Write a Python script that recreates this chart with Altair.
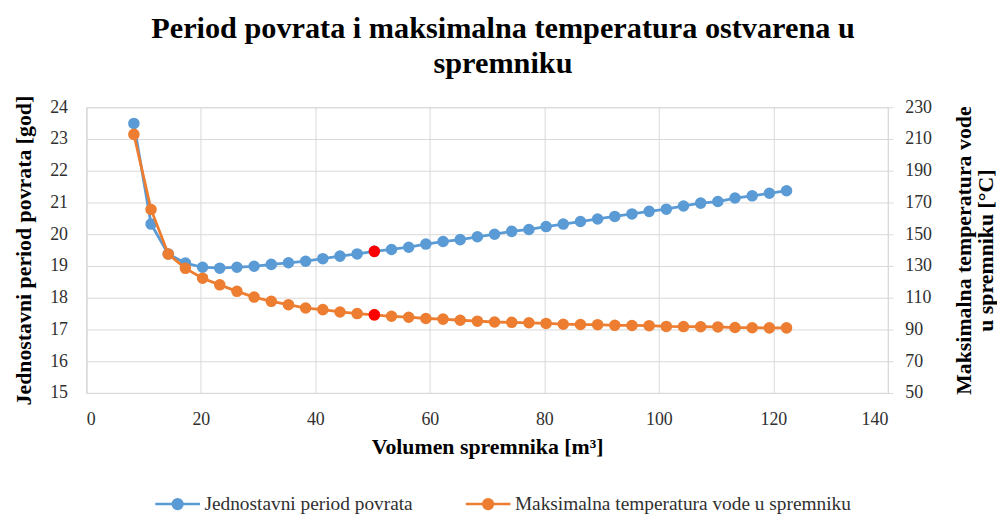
import altair as alt
import pandas as pd

volumen = [8.3, 11.3, 14.3, 17.3, 20.3, 23.3, 26.3, 29.3, 32.3, 35.3,
           38.3, 41.3, 44.3, 47.3, 50.3, 53.3, 56.3, 59.3, 62.3, 65.3,
           68.3, 71.3, 74.3, 77.3, 80.3, 83.3, 86.3, 89.3, 92.3, 95.3,
           98.3, 101.3, 104.3, 107.3, 110.3, 113.3, 116.3, 119.3, 122.3]
period = [23.49, 20.32, 19.38, 19.09, 18.96, 18.93, 18.96, 18.99, 19.05, 19.10,
          19.15, 19.23, 19.31, 19.38, 19.46, 19.52, 19.59, 19.69, 19.77, 19.83,
          19.92, 20.00, 20.09, 20.15, 20.24, 20.32, 20.40, 20.48, 20.56, 20.64,
          20.72, 20.79, 20.89, 20.98, 21.03, 21.14, 21.21, 21.29, 21.37]
temperatura = [212.9, 165.6, 137.5, 128.5, 122.3, 118.1, 114.0, 110.4, 107.7, 105.6,
               103.5, 102.5, 101.0, 100.0, 99.2, 98.3, 97.7, 96.9, 96.5, 95.8,
               95.2, 94.7, 94.5, 94.2, 93.8, 93.3, 93.1, 93.0, 92.6, 92.5,
               92.4, 91.9, 91.8, 91.7, 91.6, 91.2, 91.1, 91.0, 91.0]
istaknuto_volumen = [50.3]

s1 = "Jednostavni period povrata"
s2 = "Maksimalna temperatura vode u spremniku"

df1 = pd.DataFrame({"V": volumen, "y": period, "serija": s1})
df2 = pd.DataFrame({"V": volumen, "y": temperatura, "serija": s2})
h1 = df1[df1["V"].isin(istaknuto_volumen)]
h2 = df2[df2["V"].isin(istaknuto_volumen)]

FONT = "Liberation Serif"
GRID = "#d9d9d9"
LBL = "#303030"

xscale = alt.Scale(domain=[0, 140], nice=False)
xaxis = alt.Axis(values=list(range(0, 141, 20)), title="Volumen spremnika  [m³]",
                 grid=True, gridColor=GRID, domainColor=GRID, ticks=False,
                 labelOverlap=False,
                 labelFont=FONT, labelFontSize=18, labelColor=LBL, labelPadding=18,
                 titleFont=FONT, titleFontSize=22, titleFontWeight="bold",
                 titleColor="#000000", titlePadding=8)

color = alt.Color("serija:N",
                  scale=alt.Scale(domain=[s1, s2], range=["#5B9BD5", "#ED7D31"]),
                  legend=alt.Legend(orient="none", legendX=68, legendY=376,
                                    direction="horizontal", title=None,
                                    symbolType="M-1,0L1,0M0.22,0A0.22,0.22,0,1,1,-0.22,0A0.22,0.22,0,1,1,0.22,0Z",
                                    symbolSize=2025, symbolStrokeWidth=2.5,
                                    labelFont=FONT, labelFontSize=19.5, labelColor=LBL,
                                    labelOffset=3, labelLimit=500, columnPadding=47))

yl_scale = alt.Scale(domain=[15, 24], nice=False)
yl_axis = alt.Axis(values=list(range(15, 25)), title="Jednostavni period povrata [god]",
                   grid=True, gridColor=GRID, domainColor=GRID, ticks=False,
                   labelOverlap=False, tickCount=10,
                   labelFont=FONT, labelFontSize=18, labelColor=LBL, labelPadding=19,
                   titleFont=FONT, titleFontSize=22, titleFontWeight="bold",
                   titleColor="#000000", titlePadding=14)

yr_scale = alt.Scale(domain=[50, 230], nice=False)
yr_axis = alt.Axis(orient="right", values=list(range(50, 231, 20)),
                   title=["Maksimalna temperatura vode", "u spremniku  [°C]"],
                   grid=False, domainColor=GRID, tickColor=GRID, tickSize=5,
                   labelOverlap=False, tickCount=10,
                   labelFont=FONT, labelFontSize=18, labelColor=LBL, labelPadding=12,
                   titleFont=FONT, titleFontSize=22, titleFontWeight="bold",
                   titleColor="#000000", titleAngle=270, titlePadding=22,
                   titleLineHeight=22)

base_l = alt.Chart(df1).encode(
    x=alt.X("V:Q", scale=xscale, axis=xaxis),
    y=alt.Y("y:Q", scale=yl_scale, axis=yl_axis),
    color=color,
)
left = alt.layer(
    base_l.mark_line(strokeWidth=2.8),
    base_l.mark_circle(size=135, opacity=1),
    alt.Chart(h1).mark_circle(size=135, opacity=1, color="#FF0000").encode(
        x=alt.X("V:Q", scale=xscale, axis=xaxis),
        y=alt.Y("y:Q", scale=yl_scale, axis=yl_axis)),
)

base_r = alt.Chart(df2).encode(
    x=alt.X("V:Q", scale=xscale, axis=xaxis),
    y=alt.Y("y:Q", scale=yr_scale, axis=yr_axis),
    color=color,
)
right = alt.layer(
    base_r.mark_line(strokeWidth=2.8),
    base_r.mark_circle(size=135, opacity=1),
    alt.Chart(h2).mark_circle(size=135, opacity=1, color="#FF0000").encode(
        x=alt.X("V:Q", scale=xscale, axis=xaxis),
        y=alt.Y("y:Q", scale=yr_scale, axis=yr_axis)),
)

chart = alt.layer(left, right).resolve_scale(y="independent").properties(
    width=808, height=288,
    autosize=alt.AutoSizeParams(type="none"),
    padding={"left": 79, "top": 98, "right": 110, "bottom": 121},
    title=alt.TitleParams(
        ["Period povrata i maksimalna temperatura ostvarena u", "spremniku"],
        font=FONT, fontSize=30.5, fontWeight="bold", color="#000000",
        anchor="middle", dx=16, offset=16, lineHeight=35,
    ),
).configure_view(stroke=None).configure(background="white")

chart.save("out.html", embed_options={"renderer": "svg", "actions": False})
